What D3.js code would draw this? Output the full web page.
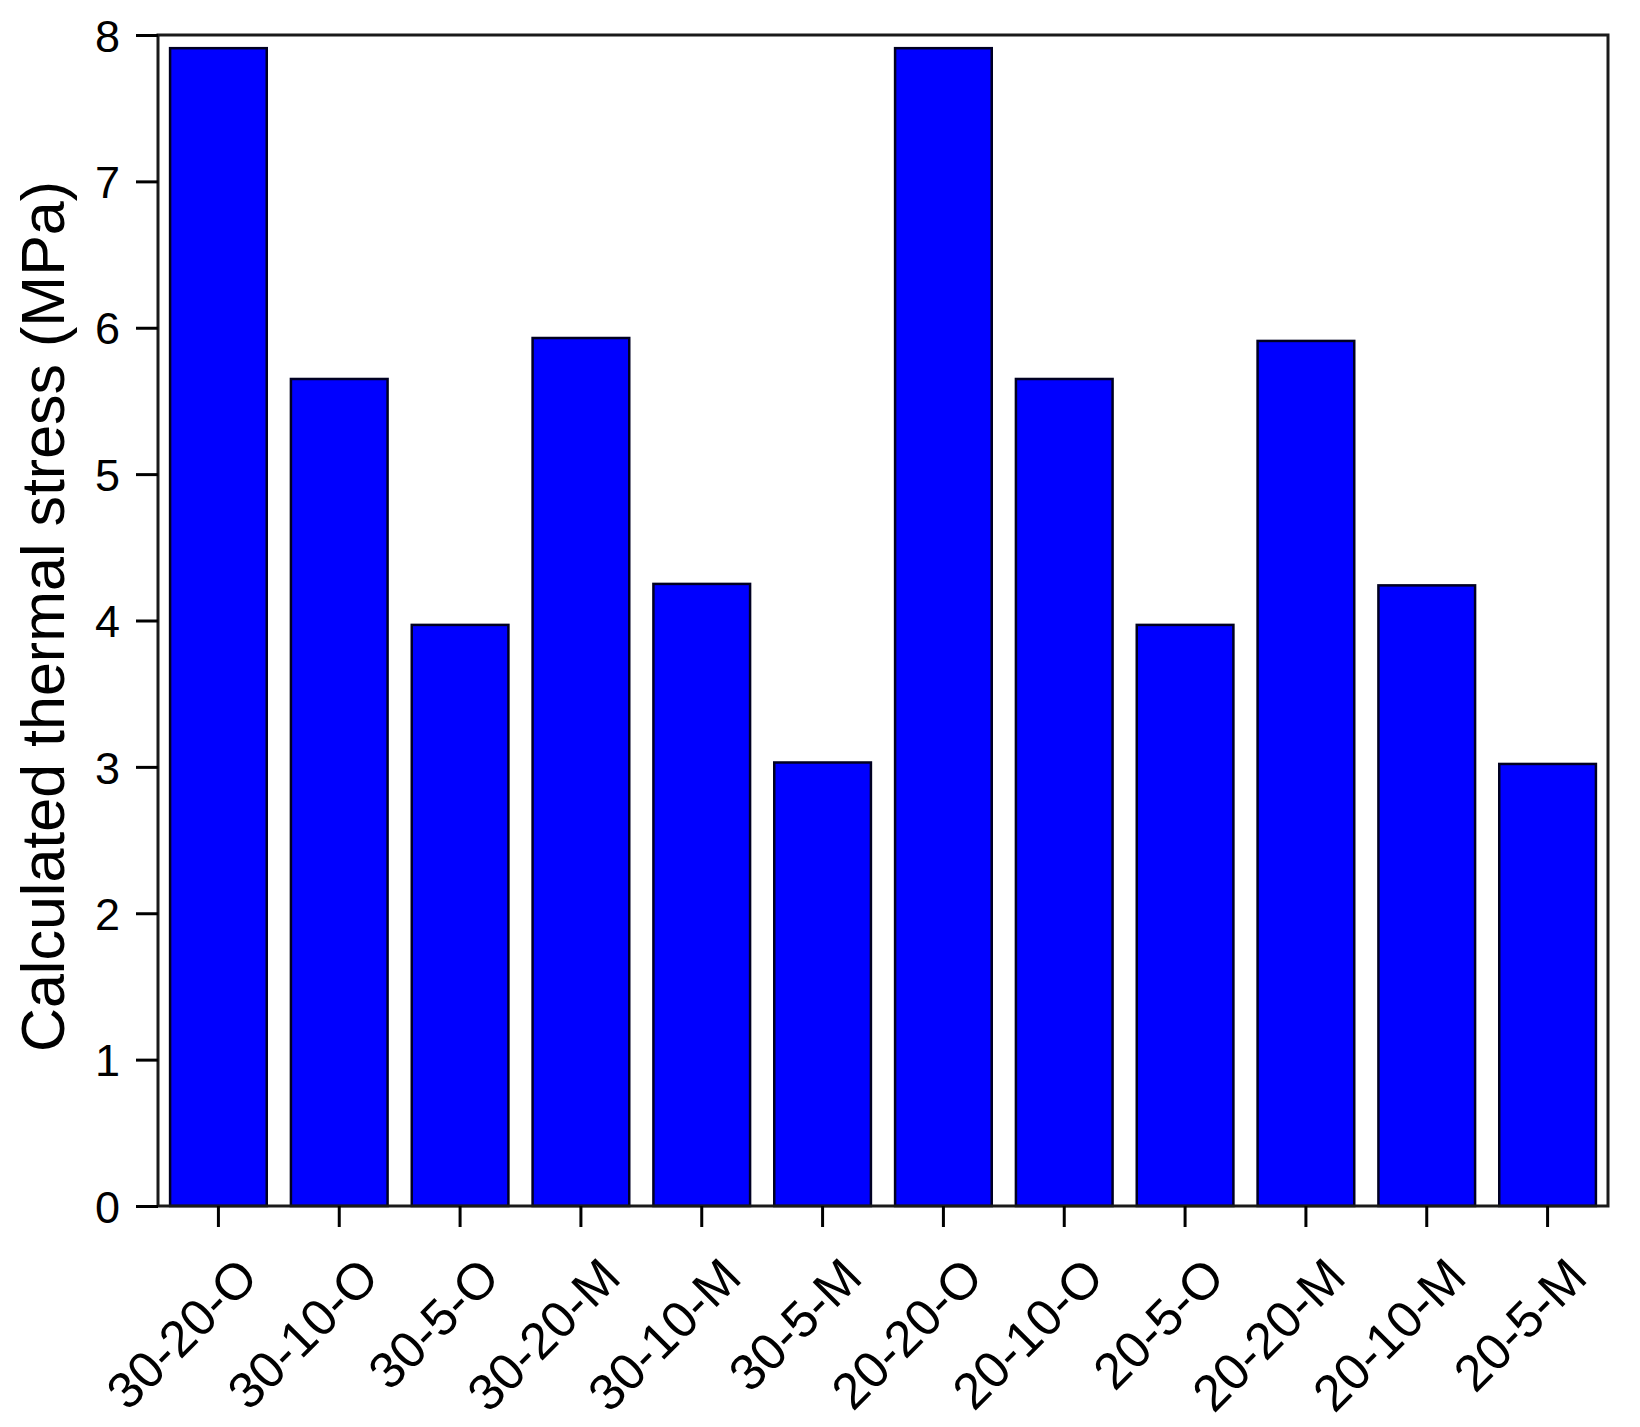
<!DOCTYPE html>
<html>
<head>
<meta charset="utf-8">
<script src="https://cdn.jsdelivr.net/npm/d3@7"></script>
<style>
  body { margin: 0; background: #fff; }
  .chart text { font-family: "Liberation Sans", Arial, sans-serif; fill: #000; }
</style>
</head>
<body>
<div class="chart"></div>
<script>
const width = 1640,
      height = 1427;

const margin = {top: 35, right: 32, bottom: 221, left: 158};

// samples and calculated stress (MPa)
const samples = ["30-20-O", "30-10-O", "30-5-O", "30-20-M", "30-10-M", "30-5-M",
                 "20-20-O", "20-10-O", "20-5-O", "20-20-M", "20-10-M", "20-5-M"];
const stress = [7.91, 5.65, 3.97, 5.93, 4.25, 3.03,
                7.91, 5.65, 3.97, 5.91, 4.24, 3.02];
const yTicks = [0, 1, 2, 3, 4, 5, 6, 7, 8];

const svg = d3.select(".chart")
              .append("svg")
              .attr("width", width)
              .attr("height", height);

const x = d3.scaleBand()
            .domain(samples)
            .range([margin.left, width - margin.right])
            .paddingInner(0.2)
            .paddingOuter(0.1);

const y = d3.scaleLinear()
            .domain([0, 8])
            .range([height - margin.bottom, margin.top]);

var bars = svg.append("g").classed("bars", true);
bars.selectAll("rect")
    .data(samples)
    .enter().append("rect")
    .attr("x", d => x(d))
    .attr("width", x.bandwidth())
    .attr("y", (d, i) => y(stress[i]))
    .attr("height", (d, i) => y(0) - y(stress[i]))
    .attr("fill", "#0000ff")
    .attr("stroke", "#000022")
    .attr("stroke-width", 2.5);

// frame
svg.append("rect")
   .attr("x", margin.left)
   .attr("y", margin.top)
   .attr("width", width - margin.left - margin.right)
   .attr("height", height - margin.top - margin.bottom)
   .attr("fill", "none")
   .attr("stroke", "#1a1a1a")
   .attr("stroke-width", 3);

var yAxis = svg.append("g")
   .attr("transform", "translate(" + margin.left + ",0)")
   .call(d3.axisLeft(y).tickValues(yTicks).tickSize(22).tickPadding(16).tickFormat(d3.format("d")));
yAxis.select(".domain").remove();
yAxis.selectAll("line").attr("stroke", "#000").attr("stroke-width", 3);
yAxis.selectAll("text").attr("font-size", 45).attr("dy", "0.36em");

var xAxis = svg.append("g")
   .attr("transform", "translate(0," + (height - margin.bottom) + ")")
   .call(d3.axisBottom(x).tickSize(21).tickPadding(0));
xAxis.select(".domain").remove();
xAxis.selectAll("line").attr("stroke", "#000").attr("stroke-width", 3);
xAxis.selectAll("text")
     .attr("font-size", 51)
     .attr("text-anchor", "end")
     .attr("dy", null)
     .attr("y", 0)
     .attr("transform", "translate(42,74)rotate(-45)");

svg.append("text")
   .attr("transform", "translate(64," + ((margin.top + height - margin.bottom) / 2 - 4) + ")rotate(-90)")
   .attr("text-anchor", "middle")
   .attr("font-size", 61)
   .text("Calculated thermal stress (MPa)");
</script>
</body>
</html>
